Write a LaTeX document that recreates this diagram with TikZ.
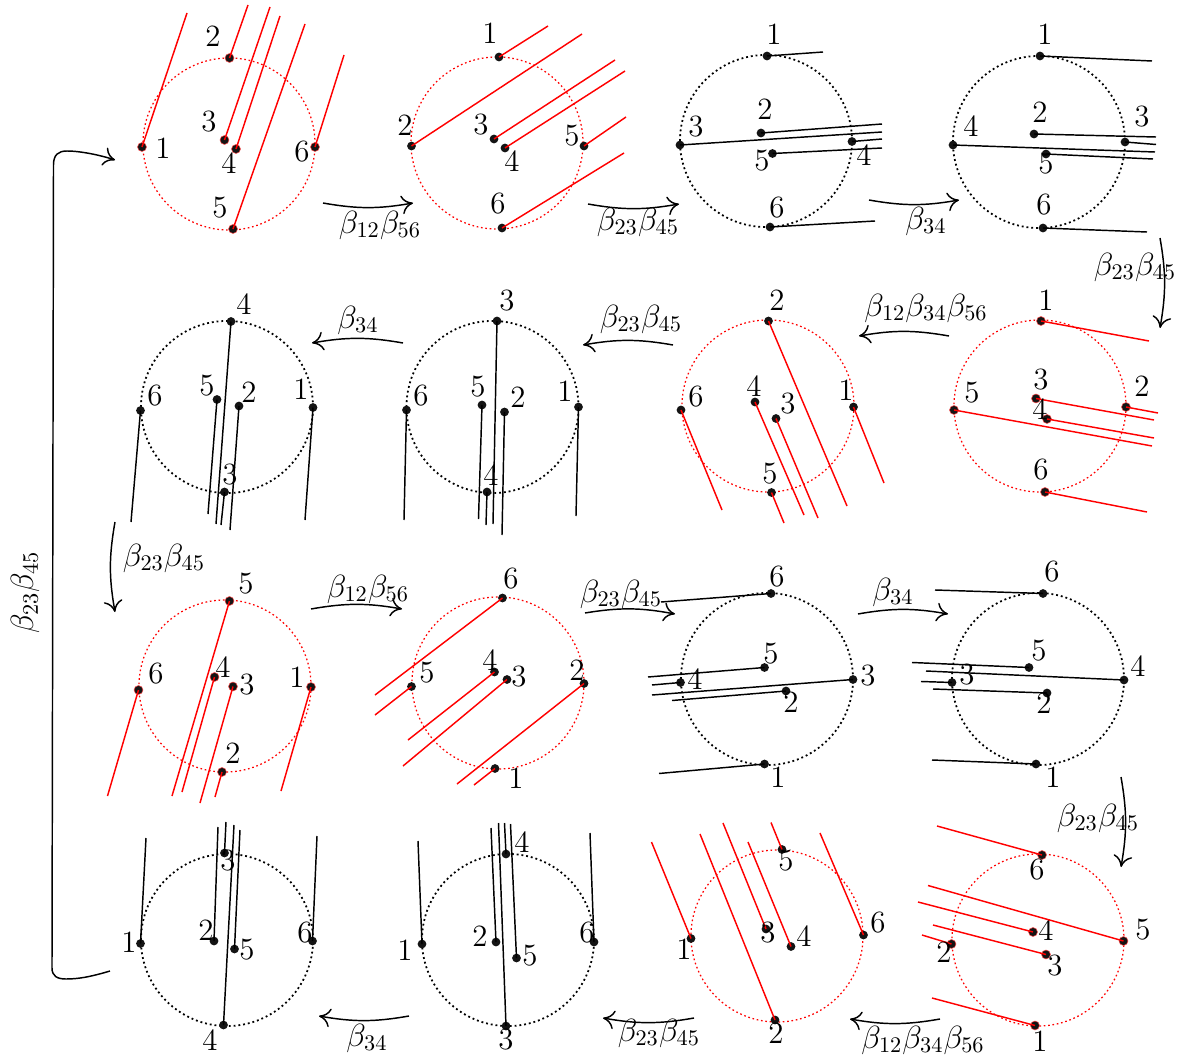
\documentclass[tikz,border=0pt]{standalone}
\usetikzlibrary{arrows.meta}

\tikzset{
  chordred/.style={draw=red, line width=0.7pt},
  chordblack/.style={draw=black, line width=0.7pt},
  ringred/.style={draw=red, line width=0.6pt, dash pattern=on 0.8pt off 1.3pt},
  ringblack/.style={draw=black, line width=0.85pt, dash pattern=on 0.9pt off 1.4pt},
  dotplain/.style={circle, fill=black!92, inner sep=0pt, minimum size=4.2pt},
  dotringed/.style={circle, fill=black!92, draw=red!70, line width=0.25pt, inner sep=0pt, minimum size=4.3pt},
  digit/.style={inner sep=0pt, font=\Large, scale=1.03},
  move/.style={line width=0.7pt, -{To[length=5.5pt,width=9pt]}},
  movetext/.style={inner sep=0pt, font=\Large, scale=1.07},
}

% name, centre x, centre y, ring style, chord style, dot style, points 1..6 (dot/end/label)
\newcommand{\chordpanel}[7]{
  \draw[#4] (#2,#3) circle[radius=41.3pt];
  \foreach \dx/\dy/\ex/\ey/\lx/\ly [count=\k] in {#7} {
    \node[#6] (#1-\k) at (\dx,\dy) {};
    \coordinate (#1-end-\k) at (\ex,\ey);
    \draw[#5] (#1-\k.center) -- (#1-end-\k);
    \node[digit] (#1-lab-\k) at (\lx,\ly) {\k};
  }
}

\begin{document}
\begin{tikzpicture}[x=0.48pt, y=-0.48pt]
  \useasboundingbox (0,0) rectangle (1182,1057);

  % first row
  \chordpanel{pa}{229}{144}{ringred}{chordred}{dotringed}{
    142/147/187/13/163/148, 229.5/58/248/5/213/36, 224.5/140/270/7/209/122,
    236/149/280/16/229/163, 233/229/305/24/220/208, 315/147/344/55/302/152}
  \chordpanel{pb}{497}{143}{ringred}{chordred}{dotplain}{
    499/57/548/26/490/33, 411.5/146/582/34/405/125, 494/139/615/60/481/125,
    505/148/625/71/512/161, 584/146/626/117/572/136, 502/228/624/153/498/204}
  \chordpanel{pc}{766}{141}{ringblack}{chordblack}{dotplain}{
    767/56/823/52/774/34, 761/133/882/124/765/109, 680/145/882/132/696/127,
    852/141.5/882/139/864/155, 772.5/153.5/882/148/762/161, 770/227/875/221/777/208}
  \chordpanel{pd}{1039}{142}{ringblack}{chordblack}{dotplain}{
    1040/56/1152/61/1045/34, 1034/134/1156/137/1040/112, 1125/142/1156/144.5/1142/117,
    953/145/1155/152/971/126, 1046/154/1153/159/1046/164, 1043/228/1147/232/1044/205}

  % second row
  \chordpanel{pe}{1040}{406}{ringred}{chordred}{dotringed}{
    1041/321/1149/341/1046/300, 1126/407/1158/413/1142/386, 1036/398.5/1154/420/1041/380,
    1047/419/1154/438/1040/409, 954/410/1152/446/972/393, 1045/492/1147/512/1041/470}
  \chordpanel{pf}{768}{406}{ringred}{chordred}{dotplain}{
    853.5/407/884/483/846/390, 768.5/321/847/506/777/300, 776/418.5/818/518/788/404,
    755/402/804/515/754/386, 771.5/492.5/784/523/770/474, 681/410/722/510/696/397}
  \chordpanel{pg}{492.5}{407}{ringblack}{chordblack}{dotplain}{
    578.5/407/576/516/565/391, 504.5/412/502/535/518/397, 497/321/493/524/507/301,
    487/492/486/525/491/475, 482/405/478.5/519/478/387, 406.5/410/404/520/421/396}
  \chordpanel{ph}{227}{407}{ringblack}{chordblack}{dotplain}{
    313/407.5/305/520/301/389, 239/406/230/530/249/392, 224.5/492/221/525/230/475,
    231/321.5/216/524/244/304, 217/399.5/208/514/207/386, 140.5/410.5/131/522/155/396}

  % third row
  \chordpanel{pi}{225}{686}{ringred}{chordred}{dotringed}{
    311/687/281/791/297/677, 222/772/215/797/233/753, 233/686.5/200/803/247/685,
    214.5/677/182/792/223/667, 229.5/601/172/796/246/584, 138.5/690/107.5/796/156/674}
  \chordpanel{pj}{498}{683}{ringred}{chordred}{dotplain}{
    495/768.5/474/785/516/778, 584/683.5/457/784/577/670, 507/679.5/403/766/519/677,
    494.5/672/408/740/490/660, 411.5/686.5/375/715/427/673, 502.5/598/375/695/511/579}
  \chordpanel{pk}{767}{679}{ringblack}{chordblack}{dotplain}{
    764.5/764/659/773.5/778/777, 786/691/672/700.5/791/702, 853/679.5/652/695/868/676,
    680.5/682.5/652/685/695/679, 764.5/667.5/648/677/771/654, 771/593.5/661/602/777/577}
  \chordpanel{pl}{1038}{679}{ringblack}{chordblack}{dotplain}{
    1036/764/932/760/1053/777, 1047/693/933/689/1044/703, 952/682.5/921/681.5/967/675,
    1124/680/926/671/1138/666, 1029/667.5/912/662.5/1039/651, 1043/593.5/935/590/1052/572}

  % fourth row
  \chordpanel{pm}{1038}{940}{ringred}{chordred}{dotringed}{
    1035/1025.5/932/998/1040/1041, 951.5/944/922/935/944/952, 1046/954.5/933/925/1055/966,
    1033/932/918/902/1046/930, 1123.5/941/928/885.5/1143/930, 1042/855/937/826/1037/870}
  \chordpanel{pn}{777}{936}{ringred}{chordred}{dotplain}{
    691/938.5/651.5/842/684/949, 775/1020/700/834/776/1033, 766/929/723/823/768/933,
    791/946.5/748/842/804/936, 782/849.5/771/822.5/786/861, 863.5/935/820/833/878/923}
  \chordpanel{po}{508}{940}{ringblack}{chordblack}{dotplain}{
    422/944/418/841/405/950, 496/942/491/828/480/936, 506/1026/498.5/823/506/1040,
    506/854/504.5/823/522/842, 516.5/958/510.5/824/530/956, 594/942/590/833/587/933}
  \chordpanel{pq}{227}{940}{ringblack}{chordblack}{dotplain}{
    140.5/943.5/146/838/129/942, 214/941/218/827/206/930, 224.5/853/226/822/228/861,
    223.5/1025/234/825/210/1040, 234.5/949/240/830/247/950, 312.5/941/317/836/305/933}

  % moves between panels
  \foreach \sx/\sy/\tx/\ty/\bend/\lx/\ly/\word [count=\m] in {
      323/203/413/203/right/380/225/{\beta_{12}\beta_{56}},
      588/204/679/204/right/638/222/{\beta_{23}\beta_{45}},
      869/200/959/200/right/926/221/{\beta_{34}},
      1160/238/1160/328/left/1135/267/{\beta_{23}\beta_{45}},
      949/336/859/336/right/926/308/{\beta_{12}\beta_{34}\beta_{56}},
      673/345/583/345/right/641/319/{\beta_{23}\beta_{45}},
      403/343/312/343/right/358/320/{\beta_{34}},
      115/522/115/612/right/164/558/{\beta_{23}\beta_{45}},
      311/609/402/609/left/368/589/{\beta_{12}\beta_{56}},
      585/613/675/614/left/621/594/{\beta_{23}\beta_{45}},
      858/614/948/614/left/893/592/{\beta_{34}},
      1121/777/1121/867/left/1098/818/{\beta_{23}\beta_{45}},
      940/1019/850/1019/left/923/1040/{\beta_{12}\beta_{34}\beta_{56}},
      694/1018/603/1018/left/659/1033/{\beta_{23}\beta_{45}},
      409/1016/319/1016/left/367/1038/{\beta_{34}}} {
    \coordinate (from-\m) at (\sx,\sy);
    \coordinate (to-\m) at (\tx,\ty);
    \draw[move] (from-\m) to[bend \bend=10] (to-\m);
    \node[movetext] (word-\m) at (\lx,\ly) {$\word$};
  }

  % long way back to the first panel
  \coordinate (backstart) at (110,971);
  \coordinate (backend) at (115,160);
  \draw[move] (backstart) .. controls (90,977) and (78,979) .. (66,979)
    .. controls (57,979) and (52,976) .. (52,968) -- (53.5,165)
    .. controls (53.5,155) and (58,151) .. (67,151)
    .. controls (80,151) and (100,155) .. (backend);
  \node[movetext, rotate=90] (backword) at (25,592) {$\beta_{23}\beta_{45}$};
\end{tikzpicture}
\end{document}
